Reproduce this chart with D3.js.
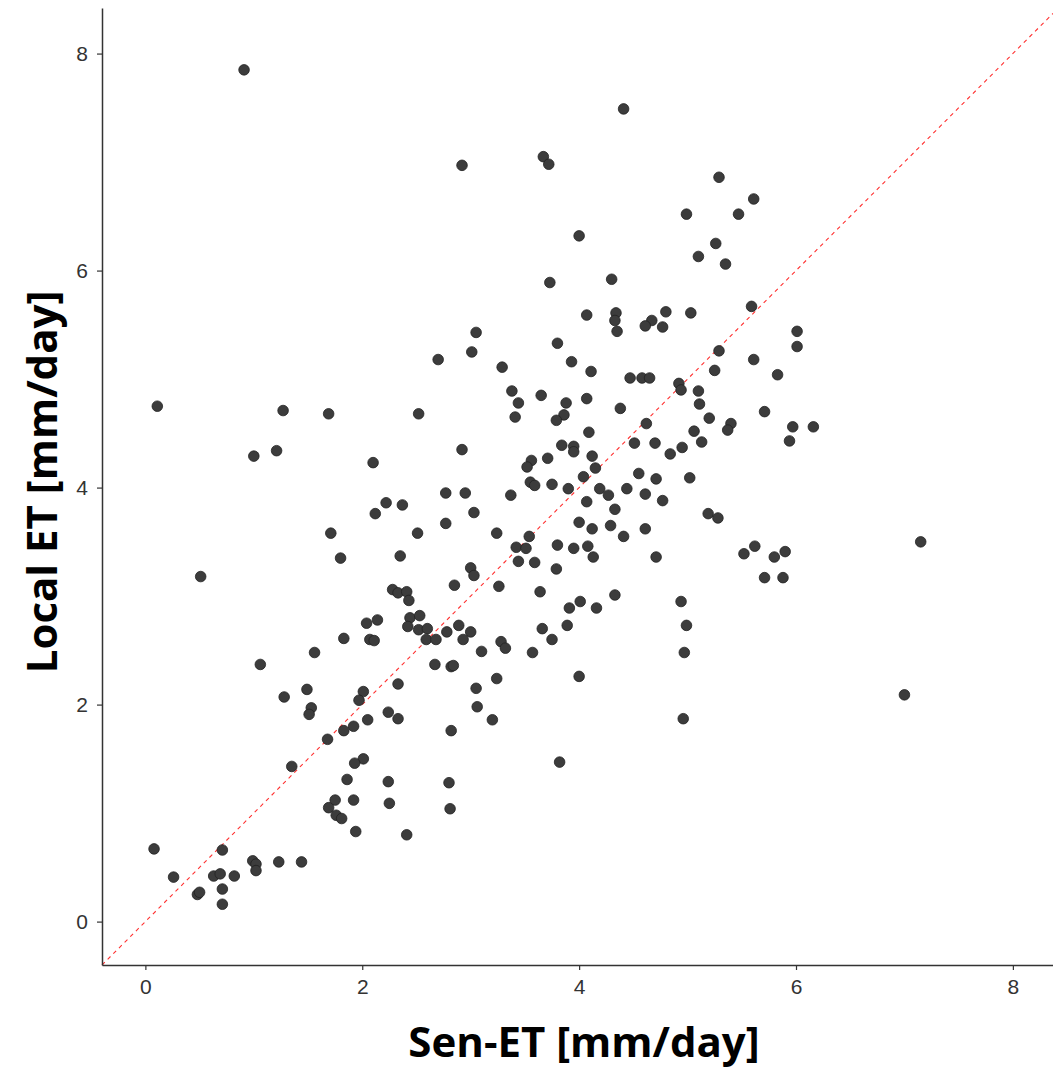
<!DOCTYPE html>
<html>
<head>
<meta charset="utf-8">
<script src="https://cdn.jsdelivr.net/npm/d3@7"></script>
<style>
  body { margin: 0; background: #fff; }
  .tick text { font-family: "Liberation Sans", Arial, sans-serif; font-size: 21px; fill: #333; }
  .axis-title { font-family: "Open Sans", "Noto Sans", sans-serif; font-weight: bold; font-size: 42px; fill: #000; }
</style>
</head>
<body>
<div id="chart"></div>
<script>
// Sen-ET (x) vs Local ET (y), mm/day
const senET = [
  0.91, 4.41, 2.92, 3.67, 3.72, 5.29, 4.99, 5.47, 4.00, 5.26, 5.10, 5.35, 3.73, 4.30, 4.07, 4.34,
  4.33, 4.80, 5.03, 4.67, 4.61, 4.77, 4.35, 3.05, 5.61, 5.59, 6.01, 0.11, 1.27, 1.69, 2.52, 1.00,
  1.21, 2.10, 2.22, 2.37, 2.12, 1.71, 2.51, 1.80, 2.35, 0.51, 2.28, 2.33, 2.41, 2.43, 2.44, 2.53,
  2.42, 2.52, 2.04, 2.14, 1.83, 2.07, 2.11, 1.56, 3.80, 3.01, 2.70, 3.93, 3.29, 4.11, 4.47, 4.58,
  4.65, 4.92, 4.94, 5.29, 5.25, 5.10, 5.11, 5.20, 5.40, 5.37, 5.06, 5.13, 4.95, 4.84, 4.70, 4.51,
  4.62, 4.38, 4.07, 4.09, 3.65, 3.88, 3.86, 3.79, 3.38, 3.44, 3.41, 2.92, 3.84, 3.95, 3.95, 4.12,
  3.71, 3.56, 3.52, 4.15, 4.04, 4.55, 4.71, 5.02, 3.55, 3.59, 3.75, 3.90, 4.19, 4.27, 4.44, 4.61,
  4.77, 4.07, 4.33, 2.77, 2.95, 3.37, 3.03, 2.77, 4.00, 4.12, 4.29, 4.41, 4.61, 5.19, 5.28, 3.24,
  3.54, 3.42, 3.51, 3.80, 3.95, 4.08, 4.13, 4.71, 3.44, 3.59, 3.79, 3.00, 3.03, 2.85, 3.26, 3.64,
  4.33, 4.94, 4.99, 4.97, 3.91, 4.01, 4.16, 3.89, 3.66, 3.75, 2.60, 2.59, 2.68, 2.78, 2.89, 2.93,
  3.00, 3.10, 3.28, 3.32, 3.57, 6.01, 5.61, 5.83, 5.71, 5.97, 6.16, 5.94, 7.15, 5.62, 5.52, 5.90,
  5.80, 5.71, 5.88, 1.06, 1.49, 1.28, 1.53, 1.51, 2.01, 1.97, 2.33, 2.24, 2.33, 2.05, 1.92, 1.83,
  1.68, 1.35, 2.01, 1.93, 1.86, 2.24, 1.75, 1.92, 1.69, 1.76, 1.81, 2.25, 1.94, 2.41, 0.08, 0.71,
  0.26, 0.63, 0.69, 0.82, 0.48, 0.50, 0.71, 0.71, 0.99, 1.02, 1.02, 1.23, 1.44, 2.67, 2.82, 2.84,
  3.24, 4.00, 3.05, 3.06, 3.20, 4.96, 2.82, 3.82, 2.80, 2.81, 7.00
];
const localET = [
  7.85, 7.49, 6.97, 7.05, 6.98, 6.86, 6.52, 6.52, 6.32, 6.25, 6.13, 6.06, 5.89, 5.92, 5.59, 5.61,
  5.54, 5.62, 5.61, 5.54, 5.49, 5.48, 5.44, 5.43, 6.66, 5.67, 5.44, 4.75, 4.71, 4.68, 4.68, 4.29,
  4.34, 4.23, 3.86, 3.84, 3.76, 3.58, 3.58, 3.35, 3.37, 3.18, 3.06, 3.03, 3.04, 2.96, 2.80, 2.82,
  2.72, 2.69, 2.75, 2.78, 2.61, 2.60, 2.59, 2.48, 5.33, 5.25, 5.18, 5.16, 5.11, 5.07, 5.01, 5.01,
  5.01, 4.96, 4.90, 5.26, 5.08, 4.89, 4.77, 4.64, 4.59, 4.53, 4.52, 4.42, 4.37, 4.31, 4.41, 4.41,
  4.59, 4.73, 4.82, 4.51, 4.85, 4.78, 4.67, 4.62, 4.89, 4.78, 4.65, 4.35, 4.39, 4.38, 4.33, 4.29,
  4.27, 4.25, 4.19, 4.18, 4.10, 4.13, 4.08, 4.09, 4.05, 4.02, 4.03, 3.99, 3.99, 3.93, 3.99, 3.94,
  3.88, 3.87, 3.80, 3.95, 3.95, 3.93, 3.77, 3.67, 3.68, 3.62, 3.65, 3.55, 3.62, 3.76, 3.72, 3.58,
  3.55, 3.45, 3.44, 3.47, 3.44, 3.46, 3.36, 3.36, 3.32, 3.31, 3.25, 3.26, 3.19, 3.10, 3.09, 3.04,
  3.01, 2.95, 2.73, 2.48, 2.89, 2.95, 2.89, 2.73, 2.70, 2.60, 2.70, 2.60, 2.60, 2.67, 2.73, 2.60,
  2.67, 2.49, 2.58, 2.52, 2.48, 5.30, 5.18, 5.04, 4.70, 4.56, 4.56, 4.43, 3.50, 3.46, 3.39, 3.41,
  3.36, 3.17, 3.17, 2.37, 2.14, 2.07, 1.97, 1.91, 2.12, 2.04, 2.19, 1.93, 1.87, 1.86, 1.80, 1.76,
  1.68, 1.43, 1.50, 1.46, 1.31, 1.29, 1.12, 1.12, 1.05, 0.98, 0.95, 1.09, 0.83, 0.80, 0.67, 0.66,
  0.41, 0.42, 0.44, 0.42, 0.25, 0.27, 0.30, 0.16, 0.56, 0.53, 0.47, 0.55, 0.55, 2.37, 2.35, 2.36,
  2.24, 2.26, 2.15, 1.98, 1.86, 1.87, 1.76, 1.47, 1.28, 1.04, 2.09
];
const xTicks = [0, 2, 4, 6, 8];
const yTicks = [0, 2, 4, 6, 8];

const width = 1053, height = 1068;
const margin = {top: 8, right: 0, bottom: 103, left: 102};

const svg = d3.select("#chart").append("svg")
    .attr("width", width)
    .attr("height", height);

const x = d3.scaleLinear().domain([-0.4, 8.37]).range([margin.left, width - margin.right]);
const y = d3.scaleLinear().domain([-0.4, 8.42]).range([height - margin.bottom, margin.top]);

const points = senET.map((v, i) => ({x: v, y: localET[i]}));

// 1:1 line
svg.append("line")
    .attr("x1", x(-0.4)).attr("y1", y(-0.4))
    .attr("x2", x(8.37)).attr("y2", y(8.37))
    .attr("stroke", "#ff3030")
    .attr("stroke-width", 1.1)
    .attr("stroke-dasharray", "4,4");

svg.append("g")
    .selectAll("circle")
    .data(points)
    .enter().append("circle")
    .attr("cx", d => x(d.x))
    .attr("cy", d => y(d.y))
    .attr("r", 5.3)
    .attr("fill", "#3c3c3c")
    .attr("stroke", "#222")
    .attr("stroke-width", 0.8);

// axes
const xAxis = svg.append("g")
    .attr("transform", `translate(0,${height - margin.bottom})`)
    .call(d3.axisBottom(x).tickValues(xTicks).tickSize(5).tickPadding(9).tickSizeOuter(0));
const yAxis = svg.append("g")
    .attr("transform", `translate(${margin.left},0)`)
    .call(d3.axisLeft(y).tickValues(yTicks).tickSize(5).tickPadding(9).tickSizeOuter(0));
[xAxis, yAxis].forEach(a => {
    a.select(".domain").attr("stroke", "#333").attr("stroke-width", 1.5);
    a.selectAll(".tick line").attr("stroke", "#333").attr("stroke-width", 1.2);
});

svg.append("text")
    .attr("class", "axis-title")
    .attr("x", 584)
    .attr("y", 1057)
    .attr("text-anchor", "middle")
    .text("Sen-ET [mm/day]");

svg.append("text")
    .attr("class", "axis-title")
    .attr("transform", "translate(57,482) rotate(-90)")
    .attr("text-anchor", "middle")
    .text("Local ET [mm/day]");
</script>
</body>
</html>
